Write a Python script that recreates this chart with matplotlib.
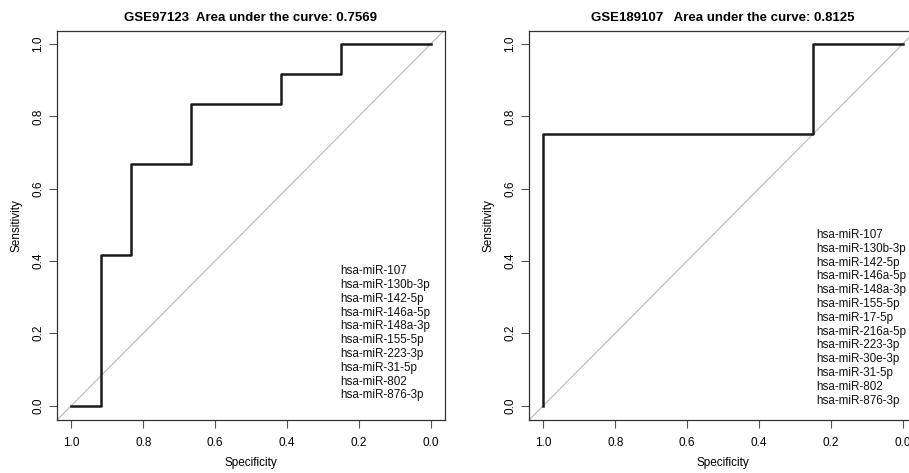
import matplotlib.pyplot as plt
import numpy as np

plt.rcParams["font.family"] = ["Liberation Sans", "DejaVu Sans"]

# ROC steps (specificity, sensitivity)
spec_a = [1.0, 0.917, 0.917, 0.833, 0.833, 0.667, 0.667, 0.417, 0.417, 0.25, 0.25, 0.0]
sens_a = [0.0, 0.0, 0.417, 0.417, 0.667, 0.667, 0.833, 0.833, 0.917, 0.917, 1.0, 1.0]
spec_b = [1.0, 1.0, 0.25, 0.25, 0.0]
sens_b = [0.0, 0.75, 0.75, 1.0, 1.0]

title_a = "GSE97123  Area under the curve: 0.7569"
title_b = "GSE189107   Area under the curve: 0.8125"

genes_a = ["hsa-miR-107", "hsa-miR-130b-3p", "hsa-miR-142-5p", "hsa-miR-146a-5p",
           "hsa-miR-148a-3p", "hsa-miR-155-5p", "hsa-miR-223-3p", "hsa-miR-31-5p",
           "hsa-miR-802", "hsa-miR-876-3p"]
genes_b = ["hsa-miR-107", "hsa-miR-130b-3p", "hsa-miR-142-5p", "hsa-miR-146a-5p",
           "hsa-miR-148a-3p", "hsa-miR-155-5p", "hsa-miR-17-5p", "hsa-miR-216a-5p",
           "hsa-miR-223-3p", "hsa-miR-30e-3p", "hsa-miR-31-5p", "hsa-miR-802",
           "hsa-miR-876-3p"]

ticks = [0.0, 0.2, 0.4, 0.6, 0.8, 1.0]
tick_labels = ["0.0", "0.2", "0.4", "0.6", "0.8", "1.0"]

W, H = 909, 473
fig = plt.figure(figsize=(W / 100, H / 100), dpi=100)


def panel(left_px, spec, sens, title, genes, text_x, text_top):
    ax = fig.add_axes([left_px / W, (H - 420) / H, 388 / W, 389 / H])
    ax.axline((1, 0), (0, 1), color="#bdbdbd", lw=0.9, zorder=1)
    ax.plot(spec, sens, color="#1a1a1a", lw=1.8, zorder=2)
    ax.set_xlim(1.04, -0.04)
    ax.set_ylim(-0.04, 1.036)
    ax.set_xticks(ticks)
    ax.set_xticklabels(tick_labels, fontsize=8.5)
    ax.set_yticks(ticks)
    ax.set_yticklabels(tick_labels, fontsize=8.5, rotation=90, va="center")
    ax.tick_params(axis="both", length=6, width=0.8, color="#555555")
    ax.tick_params(axis="x", pad=6)
    ax.tick_params(axis="y", pad=3)
    for s in ax.spines.values():
        s.set_linewidth(0.9)
        s.set_color("#333333")
    ax.set_xlabel("Specificity", fontsize=8.5, labelpad=6)
    ax.set_ylabel("Sensitivity", fontsize=8.5, labelpad=7)
    ax.set_title(title, fontsize=9.5, fontweight="bold", pad=7)
    ax.text(text_x, text_top, "\n".join(genes), transform=ax.transAxes,
            fontsize=8.4, va="top", ha="left", linespacing=1.2, color="#111111")
    return ax


panel(57, spec_a, sens_a, title_a, genes_a, 0.729, 0.398)
panel(529, spec_b, sens_b, title_b, genes_b, 0.740, 0.491)

fig.savefig("out.png", dpi=100)
